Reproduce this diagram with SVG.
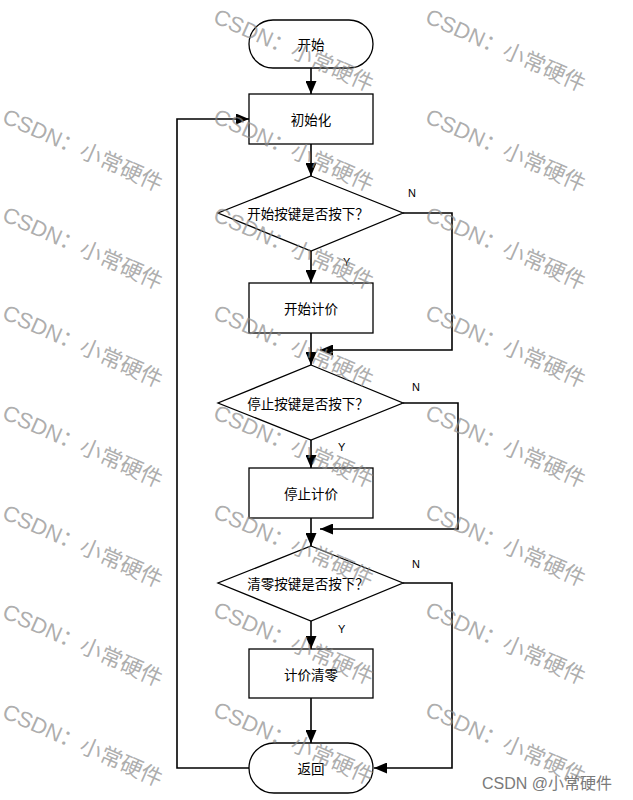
<svg xmlns="http://www.w3.org/2000/svg" width="633" height="800" viewBox="0 0 633 800">
<style>
.node{fill:#fff;stroke:#000;stroke-width:1.3}
.lbl{font-family:"Noto Sans CJK SC","Liberation Sans",sans-serif;font-size:13.5px;fill:#000;text-anchor:middle;dominant-baseline:central}
.yn{font-family:"Liberation Sans",Arial,sans-serif;font-size:11px;fill:#000;dominant-baseline:central}
.conn{fill:none;stroke:#000;stroke-width:1.6}
.wm{font-family:"Liberation Sans","Noto Sans CJK SC",sans-serif;font-size:22px;fill:#8a8a8a;fill-opacity:0.7}
</style>
<defs>
<marker id="ah" markerUnits="userSpaceOnUse" markerWidth="13" markerHeight="11" refX="13" refY="5.5" orient="auto">
<path d="M0,0 L13,5.5 L0,11 z" fill="#000"/>
</marker>
</defs>
<rect width="633" height="800" fill="#fff"/>
<g id="connectors">
<line class="conn" x1="311" y1="68" x2="311" y2="94" marker-end="url(#ah)"/>
<line class="conn" x1="311" y1="144" x2="311" y2="176" marker-end="url(#ah)"/>
<line class="conn" x1="311" y1="251" x2="311" y2="283" marker-end="url(#ah)"/>
<polyline class="conn" points="403,213 452,213 452,350 320,350" marker-end="url(#ah)"/>
<line class="conn" x1="311" y1="333" x2="311" y2="365" marker-end="url(#ah)"/>
<line class="conn" x1="311" y1="440" x2="311" y2="468" marker-end="url(#ah)"/>
<polyline class="conn" points="403,403 458,403 458,529 320,529" marker-end="url(#ah)"/>
<line class="conn" x1="311" y1="518" x2="311" y2="546" marker-end="url(#ah)"/>
<line class="conn" x1="311" y1="621" x2="311" y2="649" marker-end="url(#ah)"/>
<polyline class="conn" points="403,583 452,583 452,768 374,768" marker-end="url(#ah)"/>
<line class="conn" x1="311" y1="698" x2="311" y2="743" marker-end="url(#ah)"/>
<polyline class="conn" points="249,768 177,768 177,119 249,119" marker-end="url(#ah)"/>
<text class="yn" x="408" y="193">N</text>
<text class="yn" x="343" y="262">Y</text>
<text class="yn" x="412" y="387">N</text>
<text class="yn" x="338" y="447">Y</text>
<text class="yn" x="412" y="564">N</text>
<text class="yn" x="338" y="629">Y</text>
</g>
<g id="start"><rect class="node" x="249" y="20" width="124" height="48" rx="24" ry="24"/><text class="lbl" x="311" y="44">开始</text></g>
<g id="init"><rect class="node" x="249" y="94" width="124" height="50"/><text class="lbl" x="311" y="119">初始化</text></g>
<g id="dec1"><polygon class="node" points="311,176 403,213 311,251 218,213"/><text class="lbl" x="308" y="213">开始按键是否按下？</text></g>
<g id="startcalc"><rect class="node" x="249" y="283" width="124" height="50"/><text class="lbl" x="311" y="308">开始计价</text></g>
<g id="dec2"><polygon class="node" points="311,365 403,403 311,440 218,403"/><text class="lbl" x="308" y="403">停止按键是否按下？</text></g>
<g id="stopcalc"><rect class="node" x="249" y="468" width="124" height="50"/><text class="lbl" x="311" y="493">停止计价</text></g>
<g id="dec3"><polygon class="node" points="311,546 403,583 311,621 218,583"/><text class="lbl" x="308" y="583">清零按键是否按下？</text></g>
<g id="clear"><rect class="node" x="249" y="649" width="124" height="49"/><text class="lbl" x="311" y="674">计价清零</text></g>
<g id="ret"><rect class="node" x="249" y="743" width="124" height="50" rx="25" ry="25"/><text class="lbl" x="311" y="768">返回</text></g>
<g id="watermark">
<text class="wm" transform="translate(1,122) rotate(24)">CSDN：小常硬件</text>
<text class="wm" transform="translate(1,220) rotate(24)">CSDN：小常硬件</text>
<text class="wm" transform="translate(1,318) rotate(24)">CSDN：小常硬件</text>
<text class="wm" transform="translate(1,418) rotate(24)">CSDN：小常硬件</text>
<text class="wm" transform="translate(1,518) rotate(24)">CSDN：小常硬件</text>
<text class="wm" transform="translate(1,617) rotate(24)">CSDN：小常硬件</text>
<text class="wm" transform="translate(1,717) rotate(24)">CSDN：小常硬件</text>
<text class="wm" transform="translate(212,22) rotate(24)">CSDN：小常硬件</text>
<text class="wm" transform="translate(212,122) rotate(24)">CSDN：小常硬件</text>
<text class="wm" transform="translate(212,220) rotate(24)">CSDN：小常硬件</text>
<text class="wm" transform="translate(212,318) rotate(24)">CSDN：小常硬件</text>
<text class="wm" transform="translate(212,418) rotate(24)">CSDN：小常硬件</text>
<text class="wm" transform="translate(212,517) rotate(24)">CSDN：小常硬件</text>
<text class="wm" transform="translate(212,615) rotate(24)">CSDN：小常硬件</text>
<text class="wm" transform="translate(212,715) rotate(24)">CSDN：小常硬件</text>
<text class="wm" transform="translate(424,22) rotate(24)">CSDN：小常硬件</text>
<text class="wm" transform="translate(424,122) rotate(24)">CSDN：小常硬件</text>
<text class="wm" transform="translate(424,220) rotate(24)">CSDN：小常硬件</text>
<text class="wm" transform="translate(424,318) rotate(24)">CSDN：小常硬件</text>
<text class="wm" transform="translate(424,418) rotate(24)">CSDN：小常硬件</text>
<text class="wm" transform="translate(424,517) rotate(24)">CSDN：小常硬件</text>
<text class="wm" transform="translate(424,615) rotate(24)">CSDN：小常硬件</text>
<text class="wm" transform="translate(424,715) rotate(24)">CSDN：小常硬件</text>
<text x="482" y="789" style="font-family:'Liberation Sans','Noto Sans CJK SC',sans-serif;font-size:16px;fill:#7a7a7a">CSDN @小常硬件</text>
</g>
</svg>
